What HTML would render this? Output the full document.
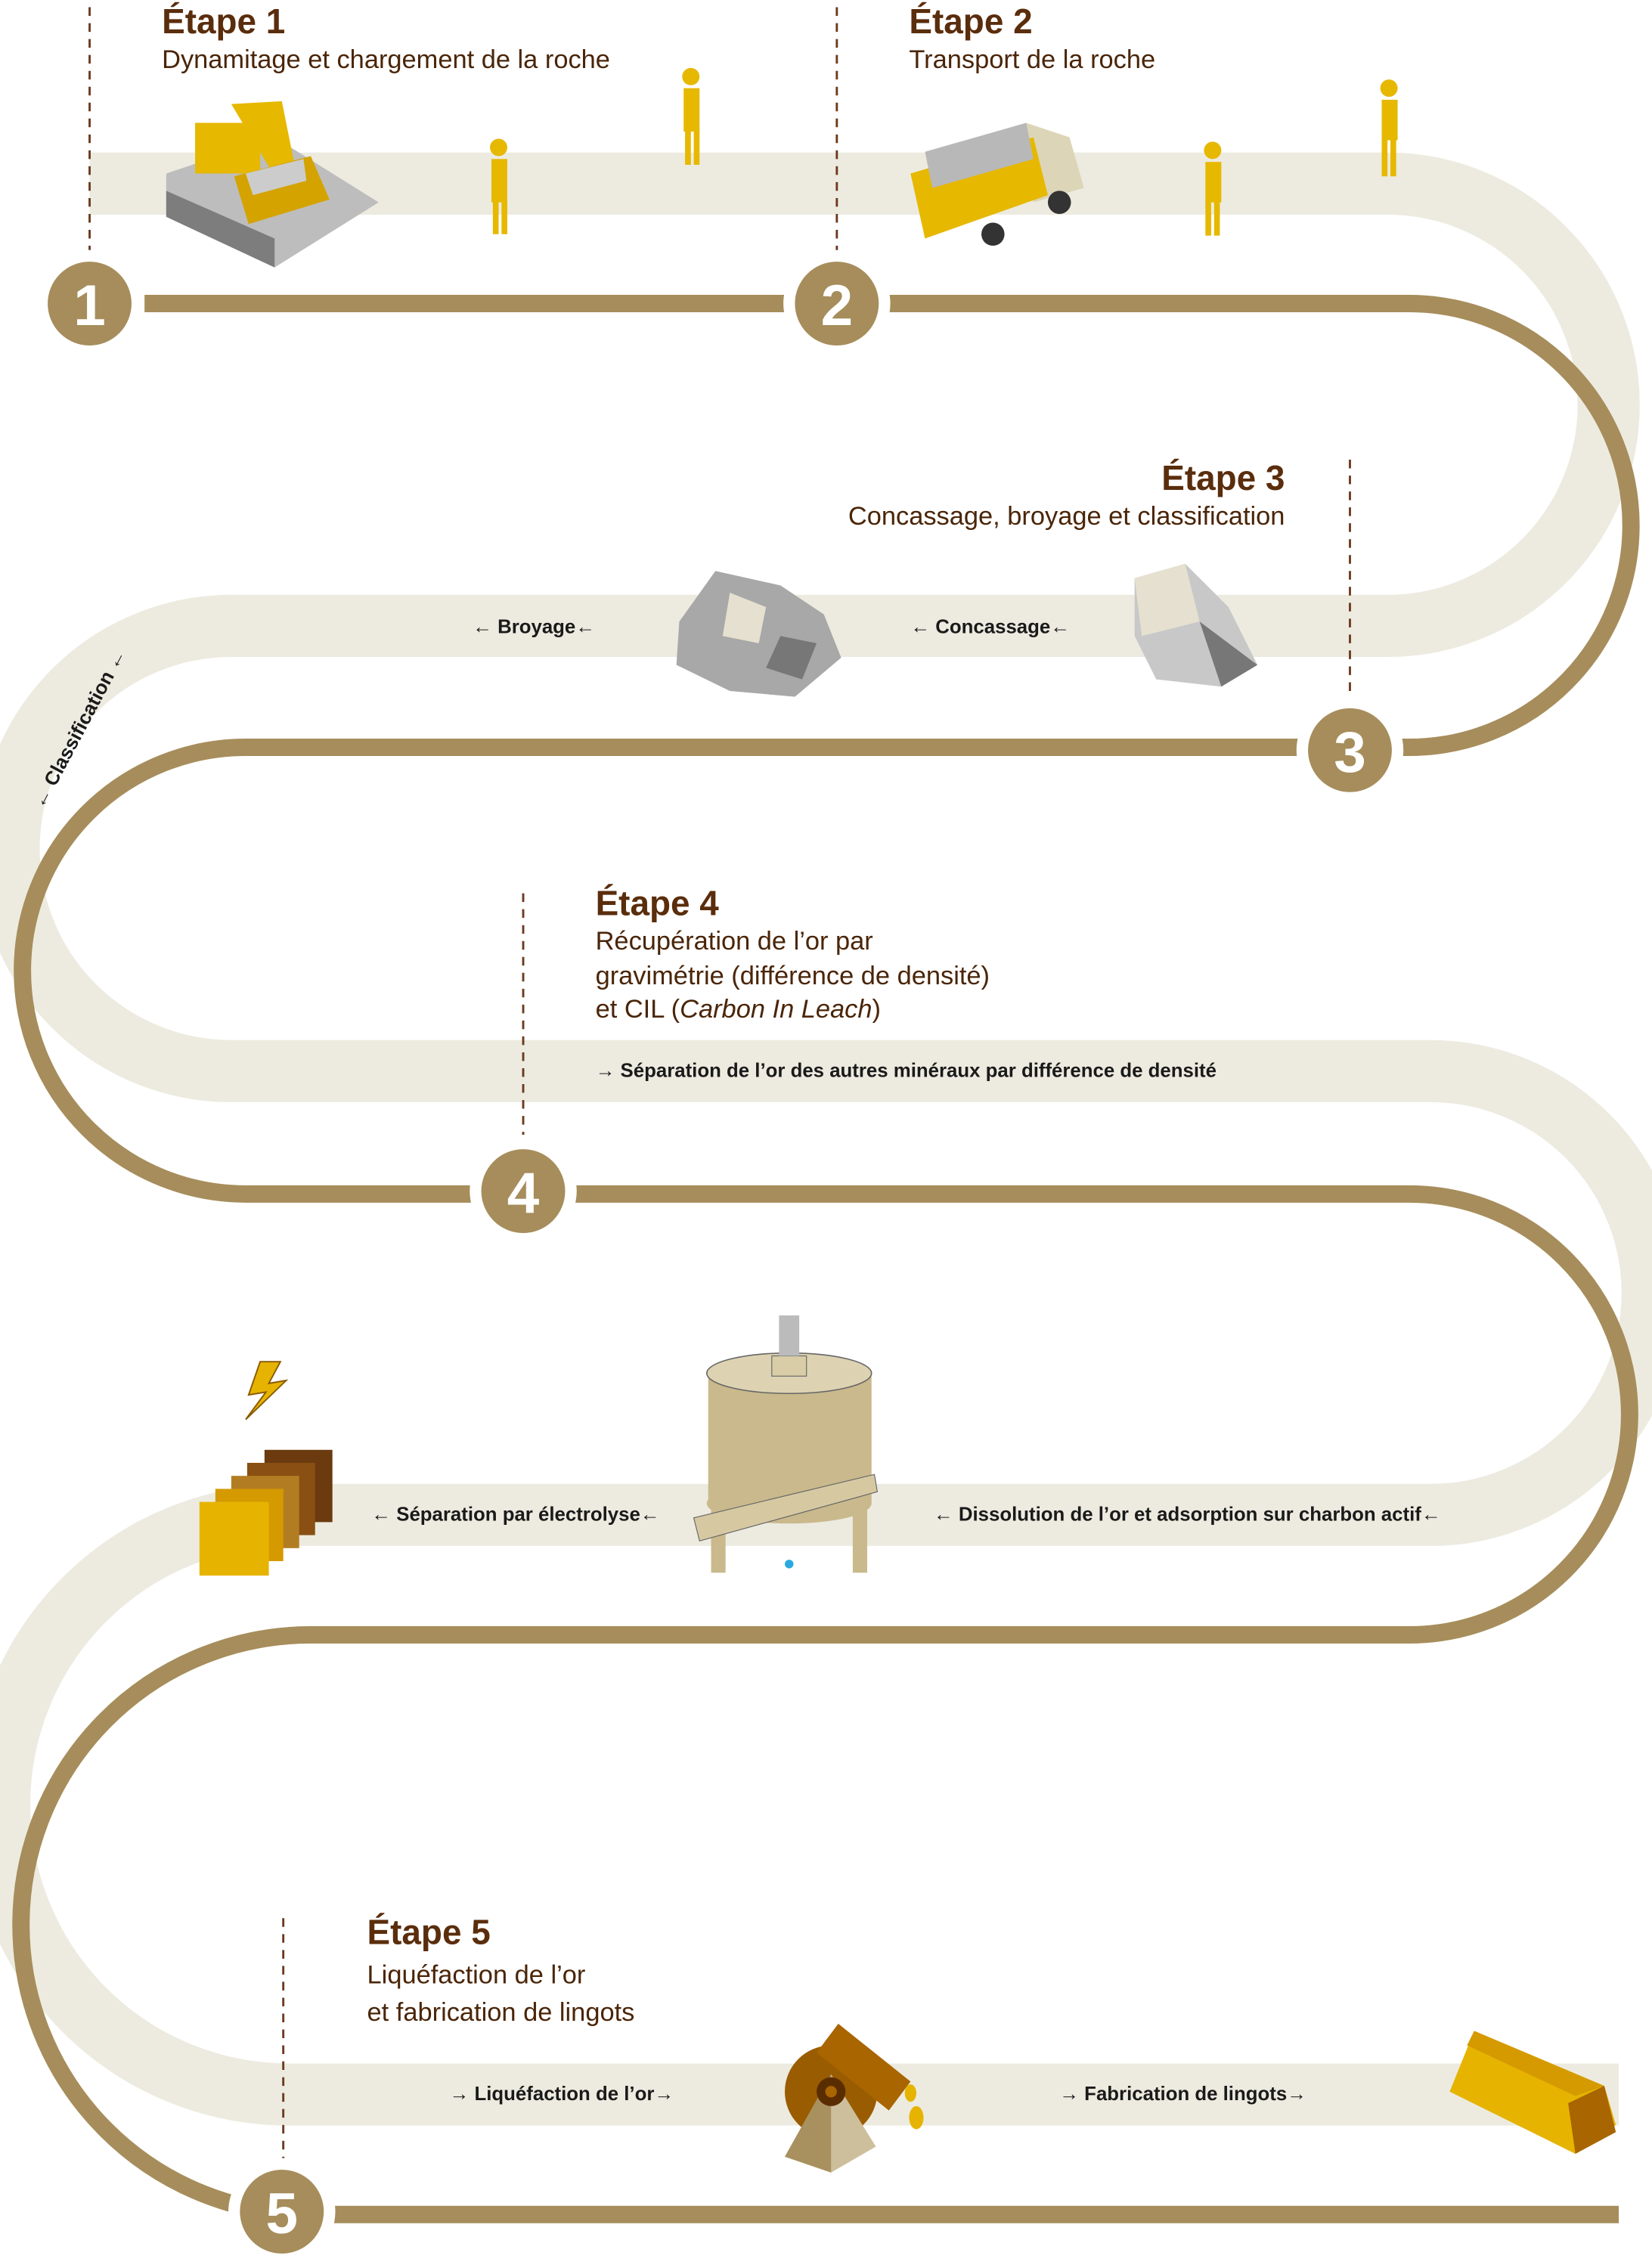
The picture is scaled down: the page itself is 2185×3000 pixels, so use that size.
<!DOCTYPE html>
<html><head><meta charset="utf-8">
<style>
html,body{margin:0;padding:0;background:#fff;}
svg{display:block;}
text{font-family:"Liberation Sans",sans-serif;}
.h{font-weight:bold;font-size:24px;fill:#5a2d0c;}
.s{font-size:18px;fill:#4a2508;}
.l{font-weight:bold;font-size:13.5px;fill:#1a1a1a;}
.n{font-weight:bold;font-size:40px;fill:#fff;text-anchor:middle;}
.d{stroke:#6b3a1e;stroke-width:1.5;stroke-dasharray:6,5;}
</style></head><body>
<svg width="2185" height="3000" viewBox="0 0 1143 1569" preserveAspectRatio="none" xmlns="http://www.w3.org/2000/svg">
<rect width="1143" height="1569" fill="#fff"/>
<!-- light band -->
<path d="M62,127 H960 A153,153 0 0 1 960,433 H160 A154,154 0 0 0 160,741 H990 A153.5,153.5 0 0 1 990,1048 H200 A200.5,200.5 0 0 0 200,1449 H1120" fill="none" stroke="#edebe0" stroke-width="43"/>
<!-- brown line -->
<path d="M100,210 H975 A153.5,153.5 0 0 1 975,517 H170 A154.5,154.5 0 0 0 170,826 H975 A152.5,152.5 0 0 1 975,1131 H215 A200.5,200.5 0 0 0 215,1532 H1120" fill="none" stroke="#a68d5b" stroke-width="12"/>
<!-- dashed -->
<line class="d" x1="62" y1="5" x2="62" y2="175"/>
<line class="d" x1="579" y1="5" x2="579" y2="175"/>
<line class="d" x1="934" y1="318" x2="934" y2="485"/>
<line class="d" x1="362" y1="618" x2="362" y2="785"/>
<line class="d" x1="196" y1="1327" x2="196" y2="1495"/>
<!-- circles -->
<g stroke="#fff" stroke-width="8" fill="#a68d5b">
<circle cx="62" cy="210" r="33"/><circle cx="579" cy="210" r="33"/><circle cx="934" cy="519" r="33"/><circle cx="362" cy="824" r="33"/><circle cx="195" cy="1530" r="33"/>
</g>
<text class="n" x="62" y="225">1</text><text class="n" x="579" y="225">2</text><text class="n" x="934" y="534">3</text><text class="n" x="362" y="839">4</text><text class="n" x="195" y="1545">5</text>
<!-- headings -->
<text class="h" x="112" y="23">Étape 1</text>
<text class="s" x="112" y="47">Dynamitage et chargement de la roche</text>
<text class="h" x="629" y="23">Étape 2</text>
<text class="s" x="629" y="47">Transport de la roche</text>
<text class="h" x="889" y="339" text-anchor="end">Étape 3</text>
<text class="s" x="889" y="363" text-anchor="end">Concassage, broyage et classification</text>
<text class="h" x="412" y="633">Étape 4</text>
<text class="s" x="412" y="657">Récupération de l’or par</text>
<text class="s" x="412" y="681">gravimétrie (différence de densité)</text>
<text class="s" x="412" y="704">et CIL (<tspan font-style="italic">Carbon In Leach</tspan>)</text>
<text class="h" x="254" y="1345">Étape 5</text>
<text class="s" x="254" y="1372">Liquéfaction de l’or</text>
<text class="s" x="254" y="1398">et fabrication de lingots</text>
<!-- band labels -->
<text class="l" x="327" y="438">← Broyage←</text>
<text class="l" x="630" y="438">← Concassage←</text>
<text class="l" x="0" y="0" transform="translate(30,560) rotate(-62)">← Classification ←</text>
<text class="l" x="412" y="745">→ Séparation de l’or des autres minéraux par différence de densité</text>
<text class="l" x="257" y="1052">← Séparation par électrolyse←</text>
<text class="l" x="646" y="1052">← Dissolution de l’or et adsorption sur charbon actif←</text>
<text class="l" x="311" y="1453">→ Liquéfaction de l’or→</text>
<text class="l" x="733" y="1453">→ Fabrication de lingots→</text>
<!-- excavator scene -->
<polygon points="115,120 190,95 262,140 190,185 115,150" fill="#bdbdbd"/>
<polygon points="115,150 190,185 190,165 115,132" fill="#7d7d7d"/>
<rect x="135" y="85" width="45" height="35" fill="#e6b800"/>
<polygon points="160,72 195,70 205,120 190,122" fill="#e6b800"/>
<polygon points="162,122 215,108 228,138 172,155" fill="#d4a300"/>
<polygon points="170,120 210,110 212,125 175,135" fill="#ccc"/>
<!-- workers -->
<g fill="#e6b800"><circle cx="345" cy="102" r="6"/><rect x="340" y="110" width="11" height="30"/><rect x="341" y="138" width="4" height="24"/><rect x="347" y="138" width="4" height="24"/>
<circle cx="478" cy="53" r="6"/><rect x="473" y="61" width="11" height="30"/><rect x="474" y="89" width="4" height="25"/><rect x="480" y="89" width="4" height="25"/>
<circle cx="839" cy="104" r="6"/><rect x="834" y="112" width="11" height="28"/><rect x="834" y="138" width="4" height="25"/><rect x="840" y="138" width="4" height="25"/>
<circle cx="961" cy="61" r="6"/><rect x="956" y="69" width="11" height="28"/><rect x="956" y="95" width="4" height="27"/><rect x="962" y="95" width="4" height="27"/></g>
<!-- truck -->
<polygon points="710,85 740,95 750,130 715,140" fill="#ddd5b8"/>
<polygon points="630,120 715,95 725,135 640,165" fill="#e6b800"/>
<polygon points="640,105 710,85 715,110 645,130" fill="#b8b8b8"/>
<circle cx="687" cy="162" r="8" fill="#333"/><circle cx="733" cy="140" r="8" fill="#333"/>
<!-- rocks -->
<polygon points="495,395 540,405 570,425 582,455 550,482 505,478 468,460 470,430" fill="#a8a8a8"/>
<polygon points="505,410 530,420 525,445 500,440" fill="#e6e0d0"/><polygon points="540,440 565,445 555,470 530,462" fill="#777"/>
<polygon points="785,400 820,390 850,420 870,460 845,475 800,470 785,440" fill="#c8c8c8"/>
<polygon points="785,400 820,390 830,430 790,440" fill="#e6e0d0"/><polygon points="830,430 870,460 845,475" fill="#777"/>
<!-- tank -->
<rect x="490" y="950" width="113" height="90" fill="#c9b98c"/>
<ellipse cx="546" cy="950" rx="57" ry="14" fill="#ddd3b2" stroke="#666" stroke-width="0.8"/>
<ellipse cx="546" cy="1040" rx="57" ry="14" fill="#c9b98c"/>
<rect x="534" y="938" width="24" height="14" fill="#d9cda8" stroke="#666" stroke-width="0.6"/>
<rect x="539" y="910" width="14" height="28" fill="#bbb"/>
<rect x="492" y="1040" width="10" height="48" fill="#c9b98c"/><rect x="590" y="1040" width="10" height="48" fill="#c9b98c"/>
<polygon points="480,1050 605,1020 607,1032 484,1066" fill="#d6c9a2" stroke="#666" stroke-width="0.6"/>
<circle cx="546" cy="1082" r="3" fill="#29a9e0"/>
<!-- gold squares + bolt -->
<rect x="183" y="1003" width="47" height="50" fill="#6b3a0f"/>
<rect x="171" y="1012" width="47" height="50" fill="#8a4f12"/>
<rect x="160" y="1021" width="47" height="50" fill="#b27d22"/>
<rect x="149" y="1030" width="47" height="50" fill="#d59a00"/>
<rect x="138" y="1039" width="48" height="51" fill="#e6b400"/>
<polygon points="180,942 172,965 184,963 170,982 198,955 186,957 194,942" fill="#e6b400" stroke="#8a5a00" stroke-width="1"/>
<!-- crucible -->
<circle cx="575" cy="1447" r="32" fill="#9a5c00"/>
<polygon points="580,1400 630,1440 615,1460 565,1420" fill="#a86500"/>
<polygon points="575,1435 543,1492 575,1503 606,1485" fill="#cdbf9c"/>
<polygon points="575,1435 543,1492 575,1503" fill="#a8915f"/>
<circle cx="575" cy="1447" r="10" fill="#5a2d00"/><circle cx="575" cy="1447" r="4" fill="#a86500"/>
<ellipse cx="630" cy="1448" rx="4" ry="6" fill="#e6b400"/><ellipse cx="634" cy="1465" rx="5" ry="8" fill="#e6b400"/>
<!-- gold bar -->
<polygon points="1020,1405 1110,1443 1118,1470 1090,1490 1003,1447" fill="#e6b400"/>
<polygon points="1020,1405 1110,1443 1090,1450 1015,1415" fill="#d59a00"/>
<polygon points="1110,1443 1118,1475 1090,1490 1085,1455" fill="#a86500"/>
</svg>
</body></html>
